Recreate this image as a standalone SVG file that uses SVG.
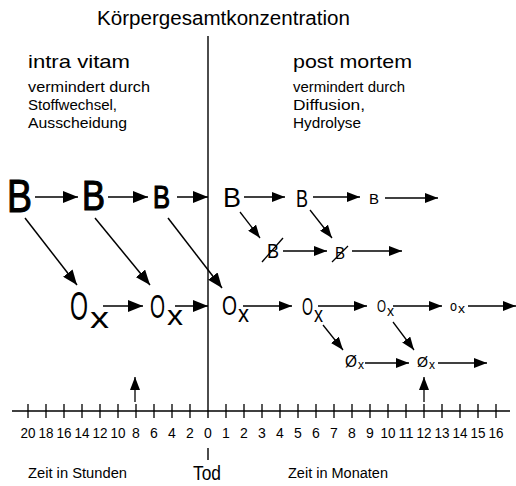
<svg xmlns="http://www.w3.org/2000/svg" width="516" height="486" viewBox="0 0 516 486">
<style>
text{font-family:"Liberation Sans","DejaVu Sans",sans-serif;fill:#000}
.ln{stroke:#000;stroke-width:1.4;fill:none}
.ar{stroke:#000;stroke-width:1.5;fill:none;marker-end:url(#ah)}
.as{stroke:#000;stroke-width:1.3;fill:none;marker-end:url(#ahs)}
.tk{stroke:#000;stroke-width:1.3}
.num{font-size:14px;text-anchor:middle}
.bb{stroke:#000;stroke-width:1.2}
</style>
<defs>
<marker id="ah" markerUnits="userSpaceOnUse" markerWidth="15" markerHeight="12" refX="15" refY="6" orient="auto"><path d="M0,0 L15,6 L0,12 z" fill="#000"/></marker>
<marker id="ahs" markerUnits="userSpaceOnUse" markerWidth="13" markerHeight="10" refX="13" refY="5" orient="auto"><path d="M0,0 L13,5 L0,10 z" fill="#000"/></marker>
</defs>

<g id="headings">
<text x="97" y="25" font-size="20" textLength="253" lengthAdjust="spacingAndGlyphs">Körpergesamtkonzentration</text>
<text x="28" y="68" font-size="19" textLength="102" lengthAdjust="spacingAndGlyphs">intra vitam</text>
<text x="28" y="92" font-size="14" textLength="122" lengthAdjust="spacingAndGlyphs">vermindert durch</text>
<text x="28" y="110" font-size="14" textLength="89" lengthAdjust="spacingAndGlyphs">Stoffwechsel,</text>
<text x="28" y="128" font-size="14" textLength="99" lengthAdjust="spacingAndGlyphs">Ausscheidung</text>
<text x="293" y="68" font-size="19" textLength="119" lengthAdjust="spacingAndGlyphs">post mortem</text>
<text x="293" y="92" font-size="14" textLength="112" lengthAdjust="spacingAndGlyphs">vermindert durch</text>
<text x="293" y="110" font-size="14" textLength="72" lengthAdjust="spacingAndGlyphs">Diffusion,</text>
<text x="293" y="128" font-size="14" textLength="68" lengthAdjust="spacingAndGlyphs">Hydrolyse</text>
</g>

<g id="divider">
<line class="ln" x1="208" y1="36" x2="208" y2="418"/>
<line class="ln" x1="208" y1="448" x2="208" y2="460"/>
</g>

<g id="B1"><text class="bb" x="7" y="212" font-size="47" textLength="25" lengthAdjust="spacingAndGlyphs">B</text></g>
<g id="B2"><text class="bb" x="82" y="210" font-size="42" textLength="23" lengthAdjust="spacingAndGlyphs">B</text></g>
<g id="B3"><text class="bb" x="153" y="208" font-size="32" textLength="17" lengthAdjust="spacingAndGlyphs">B</text></g>
<g id="B4"><text x="223" y="207" font-size="28" textLength="18" lengthAdjust="spacingAndGlyphs">B</text></g>
<g id="B5"><text x="296" y="207" font-size="24" textLength="12" lengthAdjust="spacingAndGlyphs">B</text></g>
<g id="B6"><text x="369" y="204" font-size="15" textLength="10" lengthAdjust="spacingAndGlyphs">B</text></g>

<g id="Bx1"><text x="267" y="258" font-size="21" textLength="12" lengthAdjust="spacingAndGlyphs">B</text><line class="tk" x1="262" y1="262" x2="283" y2="238"/></g>
<g id="Bx2"><text x="335" y="259" font-size="17" textLength="10" lengthAdjust="spacingAndGlyphs">B</text><line class="tk" x1="332" y1="262" x2="348" y2="246"/></g>

<g id="O1"><text x="70" y="320" font-size="40"><tspan textLength="18" lengthAdjust="spacingAndGlyphs">O</tspan><tspan x="90" y="328" font-size="30" textLength="19" lengthAdjust="spacingAndGlyphs">x</tspan></text></g>
<g id="O2"><text x="150" y="318" font-size="34"><tspan textLength="15" lengthAdjust="spacingAndGlyphs">O</tspan><tspan x="167" y="325" font-size="28" textLength="16" lengthAdjust="spacingAndGlyphs">x</tspan></text></g>
<g id="O3"><text x="222" y="315" font-size="27"><tspan textLength="15" lengthAdjust="spacingAndGlyphs">O</tspan><tspan x="238" y="322" font-size="23" textLength="11" lengthAdjust="spacingAndGlyphs">x</tspan></text></g>
<g id="O4"><text x="302" y="315" font-size="23"><tspan textLength="11" lengthAdjust="spacingAndGlyphs">O</tspan><tspan x="314" y="322" font-size="22" textLength="9" lengthAdjust="spacingAndGlyphs">x</tspan></text></g>
<g id="O5"><text x="377" y="312" font-size="17"><tspan textLength="9" lengthAdjust="spacingAndGlyphs">O</tspan><tspan x="387" y="316" font-size="15" textLength="7" lengthAdjust="spacingAndGlyphs">x</tspan></text></g>
<g id="O6"><text x="450" y="311" font-size="14"><tspan textLength="7" lengthAdjust="spacingAndGlyphs">o</tspan><tspan x="458" y="313" font-size="12" textLength="7" lengthAdjust="spacingAndGlyphs">x</tspan></text></g>

<g id="Ox1"><text x="345" y="367" font-size="17"><tspan textLength="12" lengthAdjust="spacingAndGlyphs">Ø</tspan><tspan x="358" y="369" font-size="12" textLength="6" lengthAdjust="spacingAndGlyphs">x</tspan></text></g>
<g id="Ox2"><text x="417" y="367" font-size="15"><tspan textLength="11" lengthAdjust="spacingAndGlyphs">Ø</tspan><tspan x="429" y="369" font-size="12" textLength="6" lengthAdjust="spacingAndGlyphs">x</tspan></text></g>

<g id="connectors">
<line class="ar" x1="35" y1="197" x2="78" y2="197"/>
<line class="ar" x1="108" y1="197" x2="148" y2="197"/>
<line class="ar" x1="177" y1="197" x2="208" y2="197"/>
<line class="as" x1="244" y1="197" x2="285" y2="197"/>
<line class="as" x1="313" y1="197" x2="360" y2="197"/>
<line class="as" x1="385" y1="198" x2="438" y2="198"/>

<line class="ar" x1="25" y1="218" x2="77" y2="285"/>
<line class="ar" x1="95" y1="218" x2="150" y2="285"/>
<line class="ar" x1="168" y1="218" x2="222" y2="288"/>
<line class="as" x1="240" y1="212" x2="260" y2="238"/>
<line class="as" x1="310" y1="210" x2="332" y2="238"/>

<line class="as" x1="283" y1="251" x2="327" y2="251"/>
<line class="as" x1="352" y1="251" x2="402" y2="251"/>

<line class="ar" x1="103" y1="306" x2="143" y2="306"/>
<line class="ar" x1="175" y1="306" x2="208" y2="306"/>
<line class="as" x1="243" y1="306" x2="292" y2="306"/>
<line class="as" x1="318" y1="306" x2="367" y2="306"/>
<line class="as" x1="393" y1="306" x2="442" y2="306"/>
<line class="as" x1="468" y1="306" x2="516" y2="306"/>

<line class="as" x1="323" y1="325" x2="343" y2="350"/>
<line class="as" x1="393" y1="322" x2="414" y2="350"/>

<line class="as" x1="365" y1="363" x2="409" y2="363"/>
<line class="as" x1="438" y1="363" x2="487" y2="363"/>

<line class="as" x1="135" y1="402" x2="135" y2="377"/>
<line class="as" x1="424" y1="402" x2="424" y2="377"/>
</g>

<g id="axis">
<line class="ln" x1="12" y1="411" x2="510" y2="411"/>
<path class="tk" d="M28,404V418M46,404V418M64,404V418M82,404V418M100,404V418M118,404V418M136,404V418M154,404V418M172,404V418M190,404V418M226,404V418M244,404V418M262,404V418M280,404V418M298,404V418M316,404V418M334,404V418M352,404V418M370,404V418M388,404V418M406,404V418M424,404V418M442,404V418M460,404V418M478,404V418M496,404V418"/>
<text class="num" x="28" y="438" textLength="15" lengthAdjust="spacingAndGlyphs">20</text>
<text class="num" x="46" y="438" textLength="15" lengthAdjust="spacingAndGlyphs">18</text>
<text class="num" x="64" y="438" textLength="15" lengthAdjust="spacingAndGlyphs">16</text>
<text class="num" x="82" y="438" textLength="15" lengthAdjust="spacingAndGlyphs">14</text>
<text class="num" x="100" y="438" textLength="15" lengthAdjust="spacingAndGlyphs">12</text>
<text class="num" x="118" y="438" textLength="15" lengthAdjust="spacingAndGlyphs">10</text>
<text class="num" x="136" y="438">8</text>
<text class="num" x="154" y="438">6</text>
<text class="num" x="172" y="438">4</text>
<text class="num" x="190" y="438">2</text>
<text class="num" x="208" y="438">0</text>
<text class="num" x="226" y="438">1</text>
<text class="num" x="244" y="438">2</text>
<text class="num" x="262" y="438">3</text>
<text class="num" x="280" y="438">4</text>
<text class="num" x="298" y="438">5</text>
<text class="num" x="316" y="438">6</text>
<text class="num" x="334" y="438">7</text>
<text class="num" x="352" y="438">8</text>
<text class="num" x="370" y="438">9</text>
<text class="num" x="388" y="438" textLength="15" lengthAdjust="spacingAndGlyphs">10</text>
<text class="num" x="406" y="438" textLength="15" lengthAdjust="spacingAndGlyphs">11</text>
<text class="num" x="424" y="438" textLength="15" lengthAdjust="spacingAndGlyphs">12</text>
<text class="num" x="442" y="438" textLength="15" lengthAdjust="spacingAndGlyphs">13</text>
<text class="num" x="460" y="438" textLength="15" lengthAdjust="spacingAndGlyphs">14</text>
<text class="num" x="478" y="438" textLength="15" lengthAdjust="spacingAndGlyphs">15</text>
<text class="num" x="496" y="438" textLength="15" lengthAdjust="spacingAndGlyphs">16</text>
<text x="28" y="478" font-size="14" textLength="99" lengthAdjust="spacingAndGlyphs">Zeit in Stunden</text>
<text x="193" y="480" font-size="20" textLength="28" lengthAdjust="spacingAndGlyphs">Tod</text>
<text x="288" y="478" font-size="14" textLength="100" lengthAdjust="spacingAndGlyphs">Zeit in Monaten</text>
</g>
</svg>
